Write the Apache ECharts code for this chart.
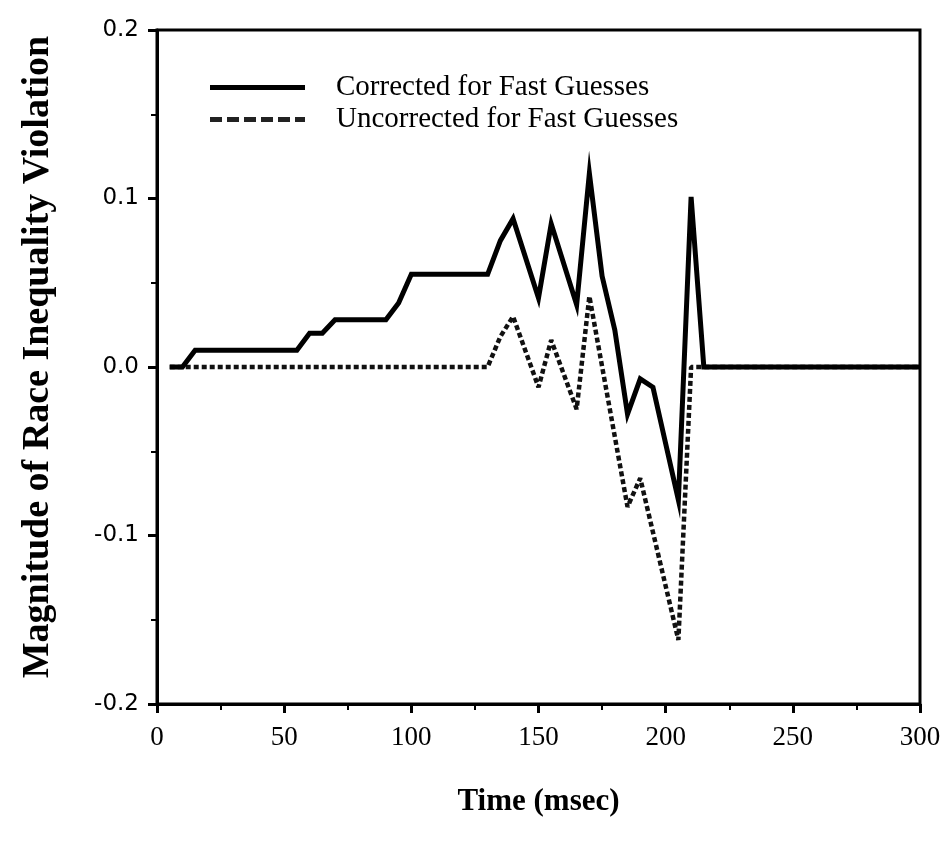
<!DOCTYPE html>
<html>
<head>
<meta charset="utf-8">
<script src="https://cdn.jsdelivr.net/npm/echarts@6/dist/echarts.min.js"></script>
<style>html,body{margin:0;padding:0;background:#fff;}#c{width:950px;height:852px;}</style>
</head>
<body>
<div id="c"></div>
<script>
var seriesNames = ['Corrected for Fast Guesses', 'Uncorrected for Fast Guesses'];
var correctedTime = [5, 10, 15, 55, 60, 65, 70, 90, 95, 100, 130, 135, 140, 150, 155, 165, 170, 175, 180, 185, 190, 195, 205, 210, 215, 300];
var correctedValue = [0, 0, 0.01, 0.01, 0.02, 0.02, 0.028, 0.028, 0.038, 0.055, 0.055, 0.075, 0.088, 0.041, 0.085, 0.037, 0.115, 0.054, 0.022, -0.028, -0.007, -0.012, -0.079, 0.101, 0, 0];
var uncorrectedTime = [5, 130, 135, 140, 150, 155, 165, 170, 185, 190, 205, 210, 300];
var uncorrectedValue = [0, 0, 0.018, 0.030, -0.012, 0.016, -0.025, 0.042, -0.083, -0.066, -0.162, 0, 0];
var xTitle = 'Time (msec)';
var yTitle = 'Magnitude of Race Inequality Violation';

function pairs(xs, ys) { return xs.map(function (x, i) { return [x, ys[i]]; }); }

var solidIcon = 'path://M0,0H95V5H0Z';
var dashIcon = 'path://M0,0H12V5H0Z M17,0H29V5H17Z M34,0H46V5H34Z M51,0H63V5H51Z M68,0H80V5H68Z M85,0H95V5H85Z';

var chart = echarts.init(document.getElementById('c'), null, {renderer: 'canvas'});
chart.setOption({
  animation: false,
  backgroundColor: '#fff',
  grid: {left: 157, right: 30, top: 30, bottom: 148, show: true, borderColor: '#000', borderWidth: 3, backgroundColor: 'transparent'},
  legend: {
    orient: 'vertical', left: 205, top: 68, itemWidth: 95, itemHeight: 5, itemGap: 3,
    textStyle: {fontFamily: 'Liberation Serif', fontSize: 29, color: '#000', padding: [0, 0, 0, 26]},
    data: [
      {name: seriesNames[0], icon: solidIcon, itemStyle: {color: '#000'}},
      {name: seriesNames[1], icon: dashIcon, itemStyle: {color: '#222'}}
    ]
  },
  xAxis: {
    type: 'value', min: 0, max: 300, interval: 50,
    name: xTitle, nameLocation: 'middle', nameGap: 82,
    nameTextStyle: {fontFamily: 'Liberation Serif', fontWeight: 'bold', fontSize: 31, color: '#000'},
    axisLine: {show: true, onZero: false, lineStyle: {color: '#000', width: 3}},
    axisTick: {show: true, length: 9, lineStyle: {color: '#000', width: 3}},
    minorTick: {show: true, splitNumber: 2, length: 6, lineStyle: {color: '#000', width: 2}},
    splitLine: {show: false},
    axisLabel: {fontFamily: 'Liberation Serif', fontSize: 27, color: '#000', margin: 20}
  },
  yAxis: {
    type: 'value', min: -0.2, max: 0.2, interval: 0.1,
    name: yTitle, nameLocation: 'middle', nameGap: 100, nameRotate: 90,
    nameTextStyle: {fontFamily: 'Liberation Serif', fontWeight: 'bold', fontSize: 38, color: '#000', padding: [0, 0, 0, 20]},
    axisLine: {show: true, onZero: false, lineStyle: {color: '#000', width: 3}},
    axisTick: {show: true, length: 9, lineStyle: {color: '#000', width: 3}},
    minorTick: {show: true, splitNumber: 2, length: 6, lineStyle: {color: '#000', width: 2}},
    splitLine: {show: false},
    axisLabel: {fontFamily: 'DejaVu Sans', fontSize: 23, color: '#000', margin: 18,
      formatter: function (v) { return v.toFixed(1); }}
  },
  series: [
    {name: seriesNames[0], type: 'line', symbol: 'none', data: pairs(correctedTime, correctedValue),
     lineStyle: {color: '#000', width: 5, join: 'miter'}, itemStyle: {color: '#000'}, z: 3},
    {name: seriesNames[1], type: 'line', symbol: 'none', data: pairs(uncorrectedTime, uncorrectedValue),
     lineStyle: {color: '#111', width: 4.5, type: [5, 3]}, itemStyle: {color: '#111'}, z: 2}
  ]
});
</script>
</body>
</html>
